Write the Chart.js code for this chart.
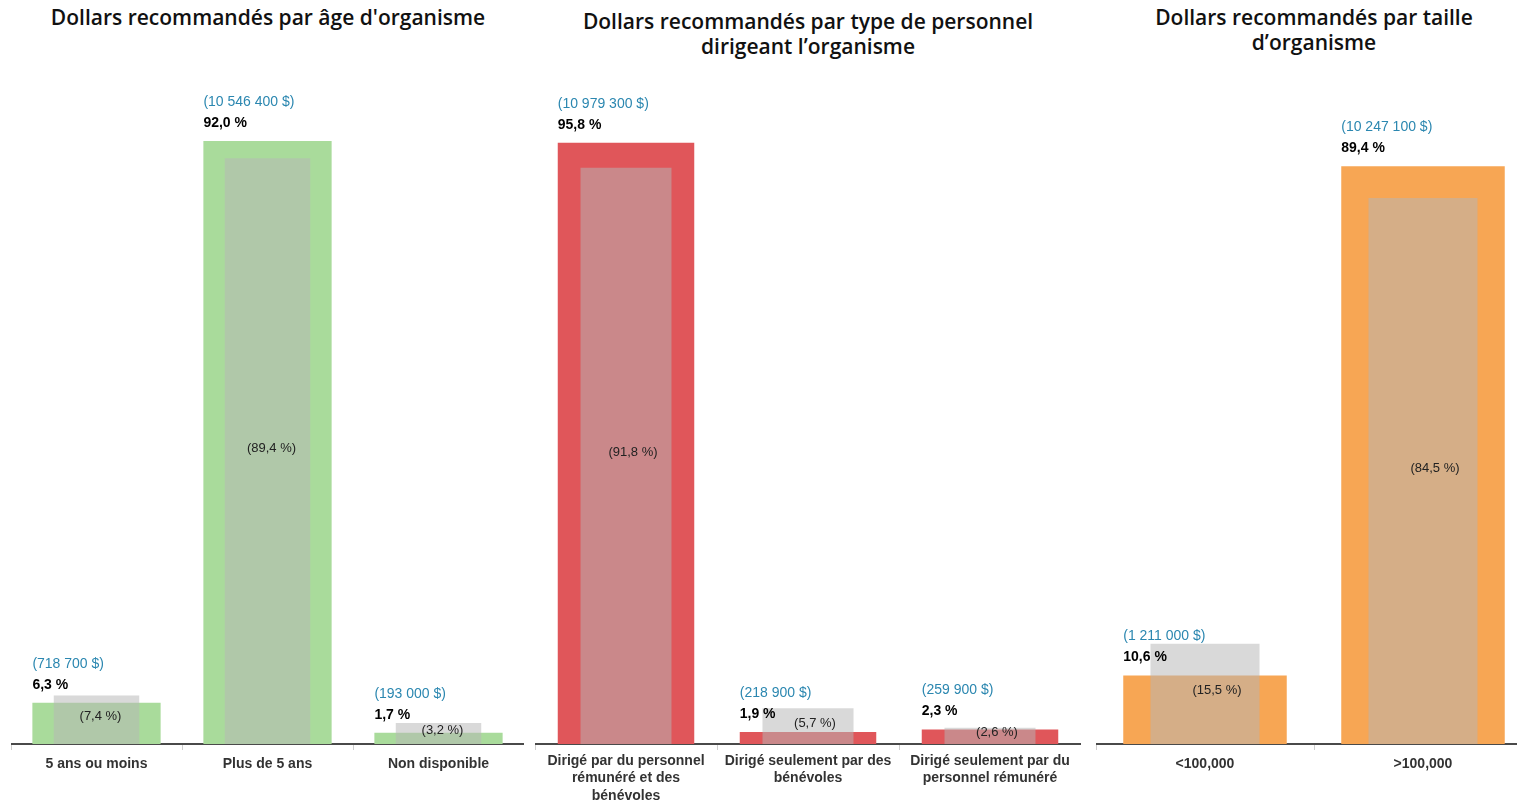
<!DOCTYPE html>
<html lang="fr">

<head>
    <meta charset="UTF-8">
    <title>Dollars recommandés</title>
    <script src="https://cdn.jsdelivr.net/npm/chart.js"></script>
    <style>
        body {
            margin: 0;
            width: 1517px;
            height: 800px;
            overflow: hidden;
            background: #fff;
            position: relative;
        }

        .titre {
            position: absolute;
            font-family: "Open Sans", sans-serif;
            font-weight: 600;
            font-size: 21px;
            line-height: 25px;
            color: #111;
            text-align: center;
            white-space: nowrap;
            transform: translateX(-50%);
        }

        canvas {
            position: absolute;
            top: 0;
        }
    </style>
</head>

<body>

    <div class="titre" style="left:268px; top:5px;">Dollars recommandés par âge d'organisme</div>
    <div class="titre" style="left:808px; top:9px;">Dollars recommandés par type de personnel<br>dirigeant l’organisme</div>
    <div class="titre" style="left:1314px; top:5px;">Dollars recommandés par taille<br>d’organisme</div>

    <canvas id="graf1" width="513" height="800" style="left:11px"></canvas>
    <canvas id="graf2" width="546" height="800" style="left:535px"></canvas>
    <canvas id="graf3" width="436" height="800" style="left:1096px"></canvas>

</body>

</html>

<script>

    // age de l'organisme
    const agesCategories = ['5 ans ou moins', 'Plus de 5 ans', 'Non disponible'];
    const agesPctRecommande = [6.3, 92.0, 1.7];
    const agesDollars = [718700, 10546400, 193000];
    const agesPctDemandes = [7.4, 89.4, 3.2];

    // type de personnel
    const personnelCategories = [
        ['Dirigé par du personnel', 'rémunéré et des', 'bénévoles'],
        ['Dirigé seulement par des', 'bénévoles'],
        ['Dirigé seulement par du', 'personnel rémunéré']
    ];
    const personnelPctRecommande = [95.8, 1.9, 2.3];
    const personnelDollars = [10979300, 218900, 259900];
    const personnelPctDemandes = [91.8, 5.7, 2.6];

    // taille de l'organisme
    const tailleCategories = ['<100,000', '>100,000'];
    const taillePctRecommande = [10.6, 89.4];
    const tailleDollars = [1211000, 10247100];
    const taillePctDemandes = [15.5, 84.5];

    const GRIS = 'rgba(182,182,182,0.52)';
    const BLEU = '#2B87B0';

    function pct(v) {
        return v.toFixed(1).replace('.', ',') + ' %';
    }

    function dollars(v) {
        return String(v).replace(/\B(?=(\d{3})+(?!\d))/g, ' ') + ' $';
    }

    // etiquettes au-dessus des barres et dans les barres grises
    const etiquettes = {
        id: 'etiquettes',
        afterDatasetsDraw(chart, args, opts) {
            const ctx = chart.ctx;
            const gris = chart.getDatasetMeta(0).data;
            const couleur = chart.getDatasetMeta(1).data;
            const dsC = chart.data.datasets[1];
            const dsG = chart.data.datasets[0];
            ctx.save();
            ctx.textBaseline = 'middle';

            couleur.forEach((el, i) => {
                const gauche = el.x - el.width / 2;
                ctx.textAlign = 'left';
                ctx.fillStyle = BLEU;
                ctx.font = '14px "Liberation Sans", Arial, sans-serif';
                ctx.fillText('(' + dollars(dsC.dollars[i]) + ')', gauche, el.y - 39);
                ctx.fillStyle = '#000';
                ctx.font = 'bold 14px "Liberation Sans", Arial, sans-serif';
                ctx.fillText(pct(dsC.data[i]), gauche, el.y - 18);
            });

            gris.forEach((el, i) => {
                ctx.textAlign = 'center';
                ctx.fillStyle = '#222';
                ctx.font = '13px "Liberation Sans", Arial, sans-serif';
                ctx.fillText('(' + pct(dsG.data[i]) + ')', el.x + opts.dx, (el.y + el.base) / 2 - 3);
            });
            ctx.restore();
        }
    };

    function graphique(id, categories, pctRec, montants, pctDem, couleur, maxY, dx, padTick) {
        new Chart(document.getElementById(id), {
            type: 'bar',
            data: {
                labels: categories,
                datasets: [{
                    label: 'Demandes',
                    data: pctDem,
                    backgroundColor: GRIS,
                    grouped: false,
                    barPercentage: 0.5,
                    categoryPercentage: 1
                }, {
                    label: 'Recommandé',
                    data: pctRec,
                    dollars: montants,
                    backgroundColor: couleur,
                    grouped: false,
                    barPercentage: 0.75,
                    categoryPercentage: 1
                }]
            },
            options: {
                responsive: false,
                animation: false,
                layout: {
                    padding: { top: 90, left: 0, right: 0, bottom: 0 }
                },
                plugins: {
                    legend: { display: false },
                    tooltip: { enabled: false },
                    etiquettes: { dx: dx }
                },
                scales: {
                    y: {
                        display: false,
                        min: 0,
                        max: maxY
                    },
                    x: {
                        afterFit: (s) => { s.height = 56; },
                        border: { display: true, color: '#4a4a4a', width: 2 },
                        grid: {
                            drawOnChartArea: false,
                            drawTicks: true,
                            tickLength: 6,
                            color: '#cfcfcf'
                        },
                        ticks: {
                            padding: padTick,
                            color: '#333',
                            autoSkip: false,
                            maxRotation: 0,
                            font: { family: '"Liberation Sans", Arial, sans-serif', size: 14, weight: 'bold', lineHeight: 1.22 }
                        }
                    }
                }
            },
            plugins: [etiquettes]
        });
    }

    graphique('graf1', agesCategories, agesPctRecommande, agesDollars, agesPctDemandes, '#A9DB9B', 99.8, 4, 6);
    graphique('graf2', personnelCategories, personnelPctRecommande, personnelDollars, personnelPctDemandes, '#E0565A', 104.2, 7, 3);
    graphique('graf3', tailleCategories, taillePctRecommande, tailleDollars, taillePctDemandes, '#F7A654', 101.2, 12, 6);

</script>
